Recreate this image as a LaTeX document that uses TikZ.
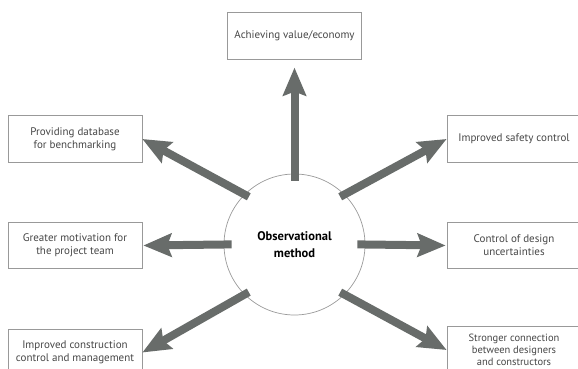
\documentclass[tikz,border=0pt]{standalone}
\usepackage{fontspec}
\setmainfont{PT Sans}
\usetikzlibrary{arrows.meta}
\definecolor{arrgray}{RGB}{104,108,106}
\definecolor{txtgray}{RGB}{70,70,70}
\tikzset{
	box/.style={draw=gray!80, line width=0.7, minimum width=134pt, minimum height=46.5pt, inner sep=0pt, align=center, text=txtgray, font=\fontsize{11}{13.2}\selectfont},
	hub/.style={draw=gray!80, line width=0.7, circle, minimum size=141pt, inner sep=0pt, align=center, font=\fontsize{12.5}{16.7}\selectfont\bfseries},
	fat/.style={draw=arrgray, line width=8pt, -{Stealth[width=23pt, length=28pt, inset=4pt]}}
}
\begin{document}
\begin{tikzpicture}[x=1pt, y=-1pt]
	\useasboundingbox (0,0) rectangle (578,369);

	\node[hub] (om) at (294.5,244.5) {Observational\\method};

	\node[box] (top) at (294.5,36) {Achieving value/economy};
	\node[box] (l1) at (75,139) {Providing database\\for benchmarking};
	\node[box] (l2) at (75,245.5) {Greater motivation for\\the project team};
	\node[box] (l3) at (75,352.5) {Improved construction\\control and management};
	\node[box] (r1) at (514,139) {Improved safety control};
	\node[box] (r2) at (514,245.5) {Control of design\\uncertainties};
	\node[box, font=\fontsize{10.5}{12.2}\selectfont] (r3) at (514,350) {Stronger connection\\between designers\\and constructors};

	\draw[fat, shorten <=-7pt, shorten >=8pt] (om.north) -- (top.south);
	\draw[fat, shorten <=-8pt, shorten >=1pt] (om.west) -- (l2.east);
	\draw[fat, shorten <=-8pt, shorten >=1pt] (om.east) -- (r2.west);
	\draw[fat, shorten <=-5pt] (om.135) -- (l1.east);
	\draw[fat, shorten <=-5pt] (om.45) -- (r1.west);
	\draw[fat, shorten <=-5pt] (om.225) -- (l3.east);
	\draw[fat, shorten <=-5pt] (om.-45) -- (r3.west);
\end{tikzpicture}
\end{document}
